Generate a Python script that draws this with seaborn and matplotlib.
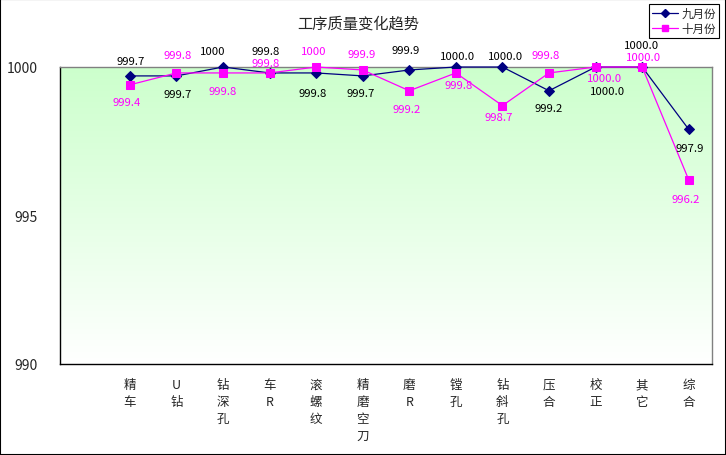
import matplotlib
matplotlib.use('Agg')
import matplotlib.pyplot as plt
import numpy as np
import pandas as pd
import seaborn as sns
from matplotlib.patches import Rectangle
from matplotlib.lines import Line2D

# Data
categories = ['精\n车', 'U\n钻', '钻\n深\n孔', '车\nR', '滚\n螺\n纹', '精\n磨\n空\n刀', '磨\nR',
              '镗\n孔', '钻\n斜\n孔', '压\n合', '校\n正', '其\n它', '综\n合']
sep_values = [999.7, 999.7, 1000.0, 999.8, 999.8, 999.7, 999.9,
              1000.0, 1000.0, 999.2, 1000.0, 1000.0, 997.9]
oct_values = [999.4, 999.8, 999.8, 999.8, 1000.0, 999.9, 999.2,
              999.8, 998.7, 999.8, 1000.0, 1000.0, 996.2]
sep_labels = ['999.7', '999.7', '1000', '999.8', '999.8', '999.7', '999.9',
              '1000.0', '1000.0', '999.2', '1000.0', '1000.0', '997.9']
oct_labels = ['999.4', '999.8', '999.8', '999.8', '1000', '999.9', '999.2',
              '999.8', '998.7', '999.8', '1000.0', '1000.0', '996.2']
series_names = ['九月份', '十月份']

# label offsets in pixels (dx, dy up)
sep_offsets = [(1, 15), (1, -18), (-10, 16), (-4, 22), (-3, -20), (-2, -17), (-4, 20),
               (2, 11), (3, 11), (0, -17), (12, -24), (-1, 22), (1, -19)]
oct_offsets = [(-3, -17), (1, 18), (0, -18), (-4, 10), (-2, 16), (-1, 16), (-3, -18),
               (3, -12), (-4, -11), (-3, 18), (9, -11), (1, 10), (-3, -19)]

NAVY = '#000080'
MAGENTA = '#ff00ff'

sns.set_style('white')
plt.rcParams['font.family'] = ['Noto Sans CJK SC', 'DejaVu Sans']

df = pd.DataFrame({'pos': np.arange(1, len(categories) + 1),
                   'sep': sep_values, 'oct': oct_values})

fig = plt.figure(figsize=(7.26, 4.56), dpi=100)
ax = fig.add_axes([60 / 726, 91 / 456, 652 / 726, 297 / 456])

# gradient background
grad = np.linspace(0, 1, 256).reshape(-1, 1)
cmap = matplotlib.colors.LinearSegmentedColormap.from_list('g', ['#ccffcc', '#ffffff'])
ax.imshow(grad, extent=[-0.5, 13.5, 990, 1000], aspect='auto', cmap=cmap,
          origin='upper', zorder=0)

sns.lineplot(data=df, x='pos', y='sep', ax=ax, color=NAVY, linewidth=0.9,
             marker='D', markersize=5, markeredgecolor=NAVY, clip_on=False, zorder=3)
sns.lineplot(data=df, x='pos', y='oct', ax=ax, color=MAGENTA, linewidth=0.9,
             marker='s', markersize=5.5, markeredgecolor=MAGENTA, clip_on=False, zorder=4)

for i in range(len(categories)):
    ax.annotate(sep_labels[i], (df['pos'][i], sep_values[i]), xytext=sep_offsets[i],
                textcoords='offset pixels', ha='center', va='center',
                fontsize=8.2, color='black', zorder=5)
    ax.annotate(oct_labels[i], (df['pos'][i], oct_values[i]), xytext=oct_offsets[i],
                textcoords='offset pixels', ha='center', va='center',
                fontsize=8.2, color=MAGENTA, zorder=5)

ax.set_xlim(-0.5, 13.5)
ax.set_ylim(990, 1000)
ax.set_xticks(np.arange(0, len(categories) + 1))
ax.set_xticklabels([''] + categories, linespacing=1.4, fontsize=9, va='top')
ax.set_xticks(np.arange(0.5, len(categories)), minor=True)
ax.tick_params(axis='x', which='major', length=0, pad=10)
ax.tick_params(axis='x', which='minor', length=3, direction='in', color='black', width=0.8)
ax.set_yticks([990, 995, 1000])
ax.tick_params(axis='y', length=0, pad=16, labelsize=10)
ax.set_xlabel('')
ax.set_ylabel('')

for s in ['top', 'right']:
    ax.spines[s].set_color('#808080')
for s in ['left', 'bottom']:
    ax.spines[s].set_color('black')
for s in ax.spines.values():
    s.set_linewidth(1)

fig.text(358 / 726, 1 - 24 / 456, '工序质量变化趋势', ha='center', va='center', fontsize=11)

handles = [Line2D([], [], color=NAVY, marker='D', markersize=4, linewidth=0.9),
           Line2D([], [], color=MAGENTA, marker='s', markersize=4.5, linewidth=0.9)]
leg = fig.legend(handles, series_names, loc='upper right',
                 bbox_to_anchor=(719 / 726, 1 - 5 / 456), fontsize=8.3, frameon=True,
                 fancybox=False, edgecolor='black', framealpha=1, handlelength=2.3,
                 borderpad=0.25, labelspacing=0.2, handletextpad=0.3, borderaxespad=0)
leg.get_frame().set_linewidth(0.8)

fig.patches.append(Rectangle((0, 0), 1, 1, transform=fig.transFigure, fill=False,
                             edgecolor='black', linewidth=1.5))

fig.savefig('out.png', dpi=100)
